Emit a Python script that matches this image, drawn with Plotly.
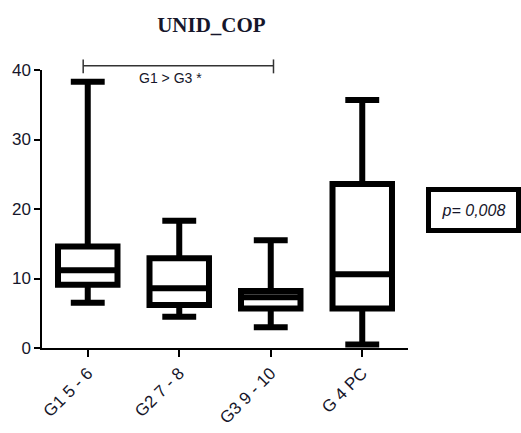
import plotly.graph_objects as go

categories = ["G1 5 - 6", "G2 7 - 8", "G3 9 - 10", "G 4 PC"]
lower = [6.5, 4.5, 3.0, 0.5]
q1 = [9.1, 6.2, 5.7, 5.7]
median = [11.2, 8.6, 7.3, 10.6]
q3 = [14.6, 12.9, 8.2, 23.6]
upper = [38.3, 18.3, 15.5, 35.7]
y_ticks = [0, 10, 20, 30, 40]
title_text = "UNID_COP"
comparison_text = "G1 > G3 *"
p_text = "p= 0,008"

TXT = "#16162a"

fig = go.Figure()
fig.add_trace(go.Box(
    x=categories, q1=q1, median=median, q3=q3,
    lowerfence=lower, upperfence=upper,
    width=0.65, whiskerwidth=0.57,
    line=dict(color="black", width=6),
    fillcolor="white", boxpoints=False,
    hoverinfo="skip", showlegend=False,
))

# comparison bracket (G1 .. G3)
fig.add_shape(type="line", xref="x", yref="paper", x0=-0.05, x1=2.03, y0=1.0155, y1=1.0155,
              line=dict(color="#333333", width=1.5))
for xe in (-0.05, 2.03):
    fig.add_shape(type="line", xref="x", yref="paper", x0=xe, x1=xe, y0=0.988, y1=1.038,
                  line=dict(color="#333333", width=1.5))
fig.add_annotation(text=comparison_text, xref="x", yref="paper", x=0.9, y=0.971,
                   yanchor="middle", xanchor="center",
                   showarrow=False, font=dict(family="Liberation Sans", size=14, color=TXT))

# p-value box
fig.add_annotation(text="<i>" + p_text + "</i>", xref="paper", yref="paper",
                   x=1.049, xanchor="left", y=0.496, yanchor="middle",
                   width=85, height=36, align="center", valign="middle",
                   bordercolor="black", borderwidth=5, borderpad=0, bgcolor="white",
                   showarrow=False, font=dict(family="Liberation Sans", size=16, color=TXT))

fig.update_layout(
    width=521, height=433,
    margin=dict(l=42, r=113, t=70, b=85),
    paper_bgcolor="white", plot_bgcolor="white",
    title=dict(text="<b>" + title_text + "</b>", x=0.463, xref="paper", xanchor="center",
               y=1 - 25 / 433, yref="container", yanchor="middle",
               font=dict(family="Liberation Serif", size=21, color=TXT)),
    xaxis=dict(range=[-0.5, 3.5], showline=True, linecolor="black", linewidth=1.5,
               ticks="outside", ticklen=7, tickwidth=1.5, tickcolor="black",
               tickangle=-45, showgrid=False, zeroline=False, automargin=False,
               tickfont=dict(family="Liberation Sans", size=17, color=TXT)),
    yaxis=dict(range=[0, 40], tickvals=y_ticks, showline=True, linecolor="black", linewidth=1.5,
               ticks="outside", ticklen=6, tickwidth=1.5, tickcolor="black",
               showgrid=False, zeroline=False, automargin=False,
               tickfont=dict(family="Liberation Sans", size=17, color=TXT)),
)

fig.write_html("out.html", config={"displayModeBar": False},
               post_script="document.body.style.margin='0px';document.body.style.overflow='hidden';")
